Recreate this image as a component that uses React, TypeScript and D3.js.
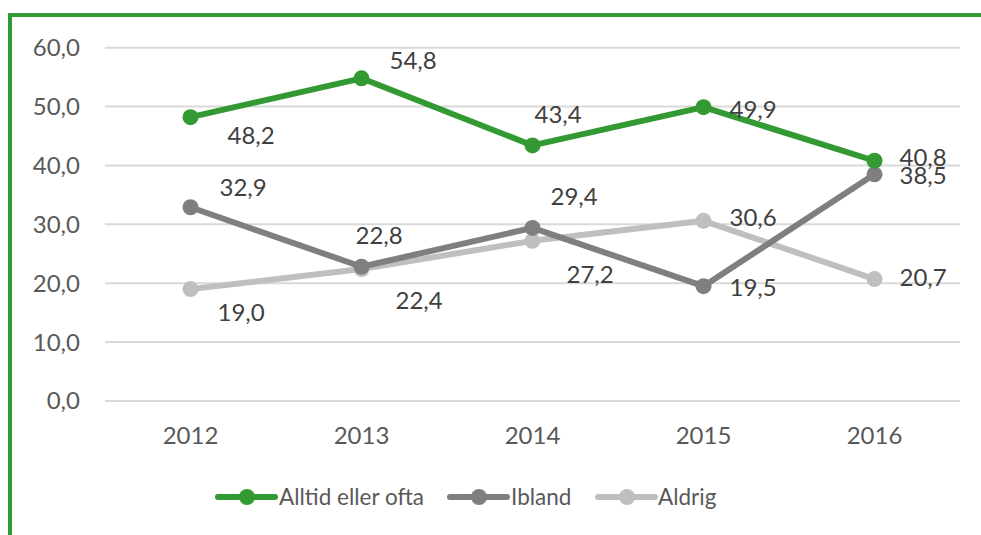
import React from "react";
import * as d3 from "d3";

const years = ["2012", "2013", "2014", "2015", "2016"];
const alltid = [48.2, 54.8, 43.4, 49.9, 40.8];
const ibland = [32.9, 22.8, 29.4, 19.5, 38.5];
const aldrig = [19.0, 22.4, 27.2, 30.6, 20.7];
const yTicks = [0, 10, 20, 30, 40, 50, 60];
const seriesNames = ["Alltid eller ofta", "Ibland", "Aldrig"];

// label placement (dx to label left edge, dy to label middle) per series/point
const labelOffsets = [
  [[37, 18], [28, -18], [2, -31], [26, 2], [25, -3]],
  [[29, -20], [-6, -31], [18, -31], [26, 1], [25, 1]],
  [[27, 23], [34, 31], [34, 34], [26, -3], [25, -2]],
];

const colors = ["#339933", "#7f7f7f", "#bfbfbf"];
const FONT = "Lato, 'Open Sans', sans-serif";

export default function App() {
  const W = 981, H = 535;
  const x = d3.scaleBand().domain(years).range([105, 960]);
  const y = d3.scaleLinear().domain([0, 60]).range([401, 47.7]);
  const fmt = (v: number) => v.toFixed(1).replace(".", ",");
  const series = [alltid, ibland, aldrig];
  const line = d3
    .line<number>()
    .x((_, i) => (x(years[i]) as number) + x.bandwidth() / 2)
    .y((d) => y(d));

  const legendItems = [
    { lx: 218, tx: 279 },
    { lx: 450, tx: 511 },
    { lx: 598, tx: 658 },
  ];
  const legendY = 497;

  return (
    <svg
      width={W}
      height={H}
      style={{ position: "absolute", left: 0, top: 0, background: "#fff" }}
      fontFamily={FONT}
    >
      <rect x={0} y={0} width={W} height={H} fill="#fff" />
      {/* border */}
      <line x1={8} x2={W} y1={15} y2={15} stroke="#339933" strokeWidth={4} />
      <line x1={10} x2={10} y1={13} y2={H} stroke="#339933" strokeWidth={4} />
      {/* grid */}
      {yTicks.map((t) => (
        <g key={t}>
          <line x1={105} x2={960} y1={y(t)} y2={y(t)} stroke="#d9d9d9" strokeWidth={2} />
          <text x={80} y={y(t)} dy="0.35em" textAnchor="end" fontSize={24} fill="#595959">
            {fmt(t)}
          </text>
        </g>
      ))}
      {years.map((yr) => (
        <text
          key={yr}
          x={(x(yr) as number) + x.bandwidth() / 2}
          y={436}
          dy="0.35em"
          textAnchor="middle"
          fontSize={24}
          fill="#595959"
        >
          {yr}
        </text>
      ))}
      {/* lines drawn back to front */}
      {[2, 1, 0].map((si) => (
        <g key={si}>
          <path
            d={line(series[si]) as string}
            fill="none"
            stroke={colors[si]}
            strokeWidth={6}
            strokeLinejoin="round"
            strokeLinecap="round"
          />
          {series[si].map((v, i) => (
            <circle
              key={i}
              cx={(x(years[i]) as number) + x.bandwidth() / 2}
              cy={y(v)}
              r={8}
              fill={colors[si]}
            />
          ))}
        </g>
      ))}
      {/* labels */}
      {series.map((s, si) =>
        s.map((v, i) => (
          <text
            key={`${si}-${i}`}
            x={(x(years[i]) as number) + x.bandwidth() / 2 + labelOffsets[si][i][0]}
            y={y(v) + labelOffsets[si][i][1]}
            dy="0.35em"
            fontSize={24}
            fill="#404040"
          >
            {fmt(v)}
          </text>
        ))
      )}
      {/* legend */}
      {seriesNames.map((name, si) => (
        <g key={name}>
          <line
            x1={legendItems[si].lx}
            x2={legendItems[si].lx + 57}
            y1={legendY}
            y2={legendY}
            stroke={colors[si]}
            strokeWidth={6}
            strokeLinecap="round"
          />
          <circle cx={legendItems[si].lx + 29} cy={legendY} r={8} fill={colors[si]} />
          <text x={legendItems[si].tx} y={legendY} dy="0.35em" fontSize={22.5} fill="#595959">
            {name}
          </text>
        </g>
      ))}
    </svg>
  );
}
